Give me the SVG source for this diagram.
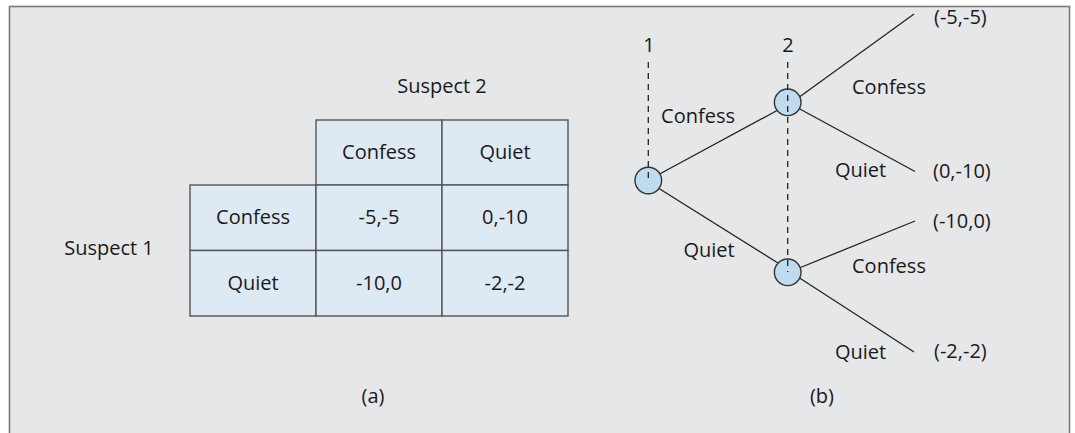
<svg xmlns="http://www.w3.org/2000/svg" width="1075" height="433" viewBox="0 0 1075 433">
<style>
text{font-family:"Open Sans","Noto Sans","Liberation Sans",sans-serif;font-size:20px;fill:#1a1a1a}
.c{text-anchor:middle}
.cell{fill:#dde9f3;stroke:#555;stroke-width:1.4}
.node{fill:#bfdbee;stroke:#333;stroke-width:1.4}
.edge{stroke:#222;stroke-width:1.3;fill:none}
.dash{stroke:#222;stroke-width:1.3;stroke-dasharray:6 5;fill:none}
</style>
<rect x="9.5" y="6.5" width="1060" height="440" fill="#e6e7e8" stroke="#7a7a7a" stroke-width="1.6"/>
<g id="table">
<rect class="cell" x="316" y="120" width="126" height="65"/>
<rect class="cell" x="442" y="120" width="126" height="65"/>
<rect class="cell" x="190" y="185" width="126" height="65.5"/>
<rect class="cell" x="316" y="185" width="126" height="65.5"/>
<rect class="cell" x="442" y="185" width="126" height="65.5"/>
<rect class="cell" x="190" y="250.5" width="126" height="65.5"/>
<rect class="cell" x="316" y="250.5" width="126" height="65.5"/>
<rect class="cell" x="442" y="250.5" width="126" height="65.5"/>
<text class="c" x="442" y="93">Suspect 2</text>
<text class="c" x="109" y="255">Suspect 1</text>
<text class="c" x="379" y="159">Confess</text>
<text class="c" x="505" y="159">Quiet</text>
<text class="c" x="253" y="224">Confess</text>
<text class="c" x="379" y="224">-5,-5</text>
<text class="c" x="505" y="224">0,-10</text>
<text class="c" x="253" y="290">Quiet</text>
<text class="c" x="379" y="290">-10,0</text>
<text class="c" x="505" y="290">-2,-2</text>
<text class="c" x="373" y="403">(a)</text>
</g>
<g id="connectors">
<line class="edge" x1="655" y1="176.5" x2="778" y2="110"/>
<line class="edge" x1="655" y1="186" x2="778" y2="263"/>
<line class="edge" x1="798" y1="98" x2="914" y2="14"/>
<line class="edge" x1="798" y1="108" x2="915" y2="171.5"/>
<line class="edge" x1="798" y1="268.5" x2="915" y2="221"/>
<line class="edge" x1="798" y1="277" x2="914" y2="352"/>
</g>
<g id="node-root"><circle class="node" cx="648.3" cy="180.5" r="13.3"/></g>
<g id="node-upper"><circle class="node" cx="787.7" cy="102.3" r="13.3"/></g>
<g id="node-lower"><circle class="node" cx="787.7" cy="272.3" r="13.3"/></g>
<g id="info-sets">
<line class="dash" x1="648.3" y1="62" x2="648.3" y2="180"/>
<line class="dash" x1="787.7" y1="62" x2="787.7" y2="272"/>
<text class="c" x="649" y="52">1</text>
<text class="c" x="788" y="52">2</text>
</g>
<g id="labels">
<text class="c" x="698" y="123">Confess</text>
<text class="c" x="709" y="257">Quiet</text>
<text x="852" y="94">Confess</text>
<text x="835" y="177">Quiet</text>
<text x="852" y="273">Confess</text>
<text x="835" y="359">Quiet</text>
<text x="934" y="24">(-5,-5)</text>
<text x="933" y="178">(0,-10)</text>
<text x="933" y="228">(-10,0)</text>
<text x="934" y="358">(-2,-2)</text>
<text class="c" x="822" y="403">(b)</text>
</g>
</svg>
